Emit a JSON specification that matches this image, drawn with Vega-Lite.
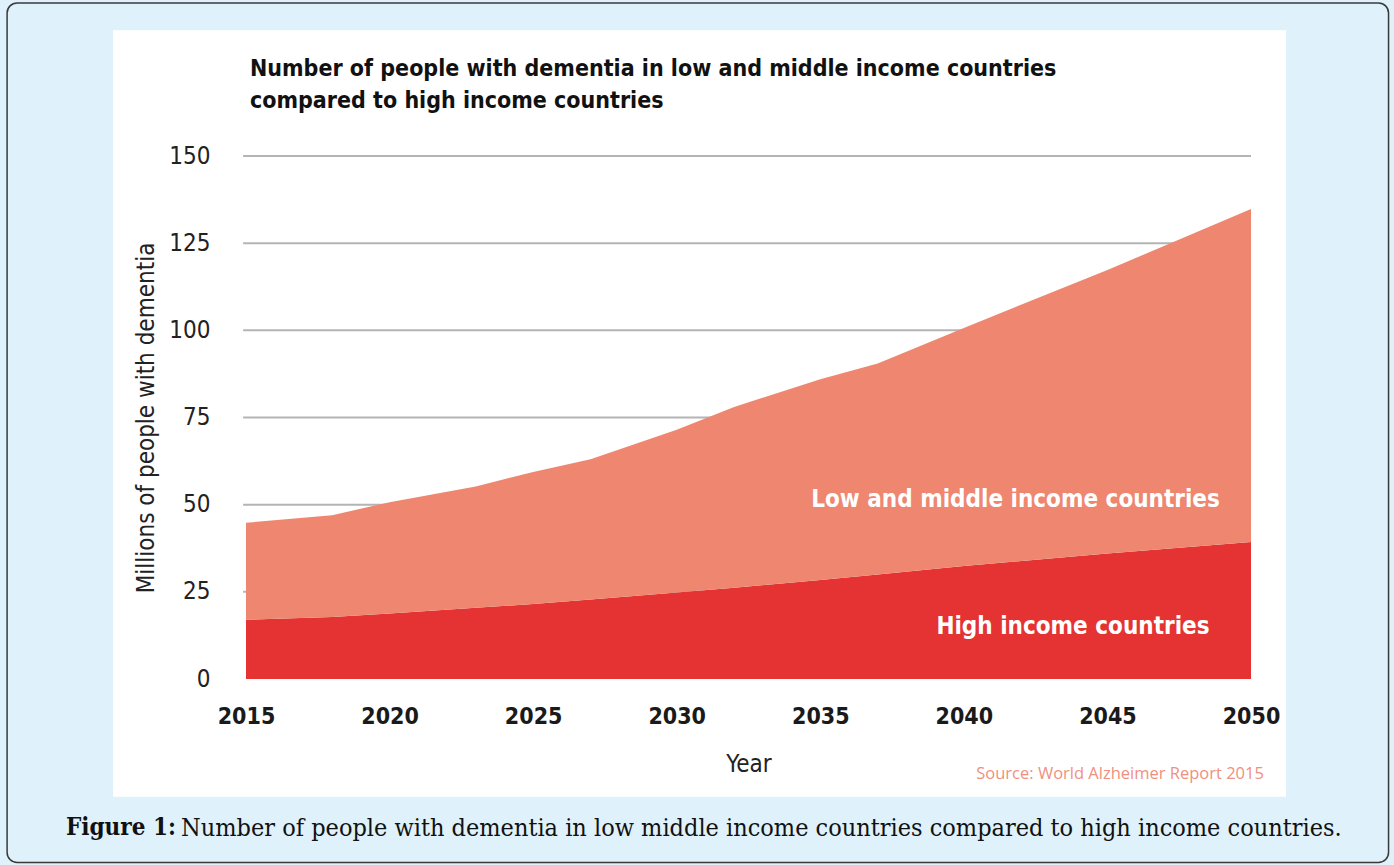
{
  "$schema": "https://vega.github.io/schema/vega-lite/v6.json",
  "width": 1005,
  "height": 523,
  "autosize": "none",
  "padding": {"left": 246, "top": 156, "right": 143, "bottom": 186},
  "background": "#dff1fb",
  "config": {"view": {"stroke": null}},
  "title": {
    "text": ["Number of people with dementia in low and middle income countries", "compared to high income countries"],
    "anchor": "start",
    "frame": "group",
    "font": "DejaVu Sans Condensed, Roboto Condensed, Roboto",
    "fontSize": 23,
    "fontWeight": "bold",
    "color": "#111111",
    "lineHeight": 32,
    "offset": -111,
    "dx": 4,
    "zindex": 5
  },
  "datasets": {
    "dementia": [
      {"year": 2015, "group": "High income countries", "millions": 17.0},
      {"year": 2018, "group": "High income countries", "millions": 17.8},
      {"year": 2020, "group": "High income countries", "millions": 18.8},
      {"year": 2023, "group": "High income countries", "millions": 20.4},
      {"year": 2025, "group": "High income countries", "millions": 21.5},
      {"year": 2027, "group": "High income countries", "millions": 22.8},
      {"year": 2030, "group": "High income countries", "millions": 24.8},
      {"year": 2032, "group": "High income countries", "millions": 26.2},
      {"year": 2035, "group": "High income countries", "millions": 28.4},
      {"year": 2037, "group": "High income countries", "millions": 30.0},
      {"year": 2040, "group": "High income countries", "millions": 32.4},
      {"year": 2045, "group": "High income countries", "millions": 36.0},
      {"year": 2050, "group": "High income countries", "millions": 39.3},
      {"year": 2015, "group": "Low and middle income countries", "millions": 27.8},
      {"year": 2018, "group": "Low and middle income countries", "millions": 29.2},
      {"year": 2020, "group": "Low and middle income countries", "millions": 31.9},
      {"year": 2023, "group": "Low and middle income countries", "millions": 34.8},
      {"year": 2025, "group": "Low and middle income countries", "millions": 37.9},
      {"year": 2027, "group": "Low and middle income countries", "millions": 40.2},
      {"year": 2030, "group": "Low and middle income countries", "millions": 46.7},
      {"year": 2032, "group": "Low and middle income countries", "millions": 51.8},
      {"year": 2035, "group": "Low and middle income countries", "millions": 57.6},
      {"year": 2037, "group": "Low and middle income countries", "millions": 60.5},
      {"year": 2040, "group": "Low and middle income countries", "millions": 68.3},
      {"year": 2045, "group": "Low and middle income countries", "millions": 81.3},
      {"year": 2050, "group": "Low and middle income countries", "millions": 95.5}
    ],
    "gridlines": [
      {"tick": 25}, {"tick": 50}, {"tick": 75}, {"tick": 100}, {"tick": 125}, {"tick": 150}
    ],
    "labels": [
      {"group": "Low and middle income countries", "year": 2041.8, "millions": 51.3},
      {"group": "High income countries", "year": 2043.8, "millions": 15.0}
    ],
    "single": [{}]
  },
  "layer": [
    {
      "data": {"name": "single"},
      "mark": {"type": "rect", "fill": "#dff1fb", "stroke": "#3a3a3a", "strokeWidth": 1.5, "cornerRadius": 10},
      "encoding": {
        "x": {"datum": 2006.68, "type": "quantitative"},
        "x2": {"datum": 2054.79},
        "y": {"datum": 193.9, "type": "quantitative"},
        "y2": {"datum": -52.6}
      }
    },
    {
      "data": {"name": "single"},
      "mark": {"type": "rect", "fill": "#ffffff"},
      "encoding": {
        "x": {"datum": 2010.37, "type": "quantitative"},
        "x2": {"datum": 2051.22},
        "y": {"datum": 186.1, "type": "quantitative"},
        "y2": {"datum": -33.8}
      }
    },
    {
      "data": {"name": "gridlines"},
      "mark": {"type": "rule", "color": "#b4b4b4", "strokeWidth": 2},
      "encoding": {
        "x": {"datum": 2014.9, "type": "quantitative"},
        "x2": {"datum": 2050},
        "y": {"field": "tick", "type": "quantitative"}
      }
    },
    {
      "data": {"name": "dementia"},
      "mark": {"type": "area", "interpolate": "linear"},
      "encoding": {
        "x": {
          "field": "year", "type": "quantitative",
          "scale": {"domain": [2015, 2050], "nice": false, "zero": false},
          "axis": {
            "title": "Year",
            "values": [2015, 2020, 2025, 2030, 2035, 2040, 2045, 2050],
            "format": "d",
            "grid": false, "domain": false, "ticks": false,
            "labelFlush": false,
            "labelFont": "DejaVu Sans Condensed, Roboto Condensed, Roboto", "labelFontSize": 23, "labelFontWeight": "bold", "labelColor": "#1a1a1a",
            "labelPadding": 26,
            "titleFont": "DejaVu Sans Condensed, Roboto Condensed, Roboto", "titleFontSize": 24, "titleFontWeight": "normal", "titleColor": "#222222",
            "titlePadding": 24,
            "zindex": 2
          }
        },
        "y": {
          "field": "millions", "type": "quantitative", "stack": "zero",
          "scale": {"domain": [0, 150], "nice": false},
          "axis": {
            "title": "Millions of people with dementia",
            "values": [0, 25, 50, 75, 100, 125, 150],
            "grid": false, "domain": false, "ticks": false,
            "labelFont": "DejaVu Sans Condensed, Roboto Condensed, Roboto", "labelFontSize": 24, "labelColor": "#222222",
            "labelPadding": 36,
            "titleFont": "DejaVu Sans Condensed, Roboto Condensed, Roboto", "titleFontSize": 24, "titleFontWeight": "normal", "titleColor": "#222222",
            "titlePadding": 10,
            "zindex": 2
          }
        },
        "color": {
          "field": "group", "type": "nominal",
          "scale": {"domain": ["High income countries", "Low and middle income countries"], "range": ["#e43332", "#ee8670"]},
          "legend": null
        },
        "order": {"field": "group", "sort": "ascending"}
      }
    },
    {
      "data": {"name": "labels"},
      "mark": {"type": "text", "font": "DejaVu Sans Condensed, Roboto Condensed, Roboto", "fontSize": 24, "fontWeight": "bold", "color": "#ffffff", "align": "center", "baseline": "middle"},
      "encoding": {
        "x": {"field": "year", "type": "quantitative"},
        "y": {"field": "millions", "type": "quantitative"},
        "text": {"field": "group"}
      }
    },
    {
      "data": {"name": "single"},
      "mark": {"type": "text", "font": "Open Sans", "fontSize": 16.5, "color": "#f0907f", "align": "right", "baseline": "middle"},
      "encoding": {
        "x": {"datum": 2050.45, "type": "quantitative"},
        "y": {"datum": -27.2, "type": "quantitative"},
        "text": {"value": "Source: World Alzheimer Report 2015"}
      }
    },
    {
      "data": {"name": "single"},
      "mark": {"type": "text", "font": "DejaVu Serif Condensed, DejaVu Serif", "fontSize": 24, "fontWeight": "bold", "color": "#111111", "align": "left", "baseline": "middle"},
      "encoding": {
        "x": {"datum": 2008.73, "type": "quantitative"},
        "y": {"datum": -42.7, "type": "quantitative"},
        "text": {"value": "Figure 1:"}
      }
    },
    {
      "data": {"name": "single"},
      "mark": {"type": "text", "font": "DejaVu Serif Condensed, DejaVu Serif", "fontSize": 25, "color": "#111111", "align": "left", "baseline": "middle"},
      "encoding": {
        "x": {"datum": 2012.74, "type": "quantitative"},
        "y": {"datum": -42.7, "type": "quantitative"},
        "text": {"value": "Number of people with dementia in low middle income countries compared to high income countries."}
      }
    }
  ]
}
